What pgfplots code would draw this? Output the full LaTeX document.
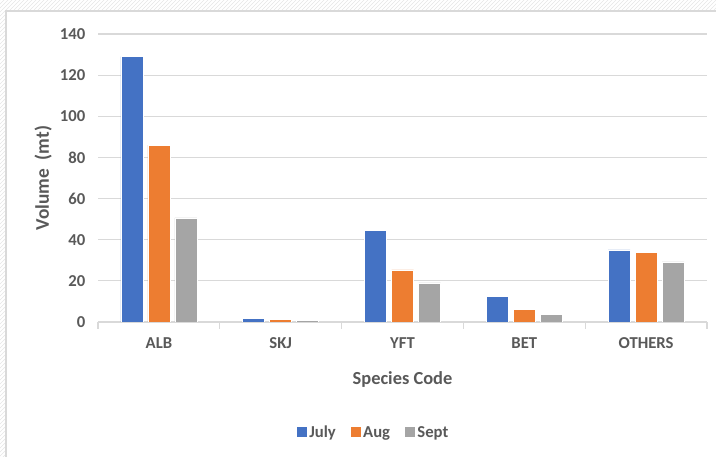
\documentclass[border=0pt]{standalone}
\usepackage{pgfplots}
\pgfplotsset{compat=1.18}
\usepackage{fontspec}
\setmainfont{Carlito}
\usetikzlibrary{patterns}
\definecolor{cBlue}{HTML}{4472C4}
\definecolor{cOrange}{HTML}{ED7D31}
\definecolor{cGray}{HTML}{A5A5A5}
\definecolor{txt}{HTML}{595959}
\definecolor{gridc}{HTML}{D9D9D9}
\begin{document}
\begin{tikzpicture}
\useasboundingbox (0,0) rectangle (537pt,342pt);
\fill[pattern=north east lines, pattern color=black!10] (0,0) rectangle (537pt,342pt);
\fill[white,draw=black!15,line width=1.2pt] (4.5pt,-5pt) rectangle (545pt,333.75pt);
\begin{axis}[
  at={(73.5pt,100.5pt)}, anchor=south west,
  scale only axis,
  width=456.75pt, height=216pt,
  xmin=-0.5, xmax=4.5, ymin=0, ymax=140,
  ytick={0,20,...,140},
  xtick={0,1,2,3,4},
  xticklabels={ALB,SKJ,YFT,BET,OTHERS},
  major tick length=0pt,
  extra x ticks={-0.5,0.5,1.5,2.5,3.5,4.5},
  extra x tick labels={},
  extra x tick style={major tick length=5pt, xtick align=outside},
  axis x line*=bottom,
  axis y line*=left,
  y axis line style={draw=none},
  x axis line style={draw=gridc,line width=0.8pt,-},
  tick style={draw=gridc, line width=0.8pt},
  y tick style={draw=none},
  ymajorgrids,
  grid style={draw=gridc,line width=0.8pt},
  /pgf/number format/assume math mode=true,
  ticklabel style={font=\bfseries\fontsize{12.5}{14}\selectfont, text=txt},
  yticklabel style={xshift=-6pt},
  xticklabel style={yshift=-8pt},
  ylabel={Volume\ \ (mt)},
  ylabel style={font=\bfseries\fontsize{14.5}{16}\selectfont, text=txt, at={(axis description cs:-0.09,0.5)}, anchor=center},
  xlabel={Species Code},
  xlabel style={font=\bfseries\fontsize{13.8}{15}\selectfont, text=txt, at={(axis description cs:0.5,0)}, yshift=-43pt, anchor=center},
  ybar, bar width=16.5pt,
  every axis plot/.append style={draw=white, line width=0.6pt},
  legend style={at={(axis description cs:0.453,0)}, anchor=center, yshift=-83pt, draw=none, legend columns=3, font=\bfseries\fontsize{12.5}{14}\selectfont, text=txt, /tikz/every even column/.append style={column sep=9pt}},
  legend image code/.code={\fill[#1, draw=none] (0pt,-3.5pt) rectangle (7.5pt,4pt);},
]
\addplot[fill=cBlue, bar shift=-20.25pt] coordinates {(0,129) (1,1.8) (2,44.7) (3,12.6) (4,35)};
\addplot[fill=cOrange, bar shift=0pt] coordinates {(0,86) (1,1.2) (2,25.3) (3,6.2) (4,33.6)};
\addplot[fill=cGray, bar shift=20.25pt] coordinates {(0,50.6) (1,0.7) (2,19) (3,3.6) (4,29.2)};
\legend{July,Aug,Sept}
\end{axis}
\end{tikzpicture}
\end{document}
